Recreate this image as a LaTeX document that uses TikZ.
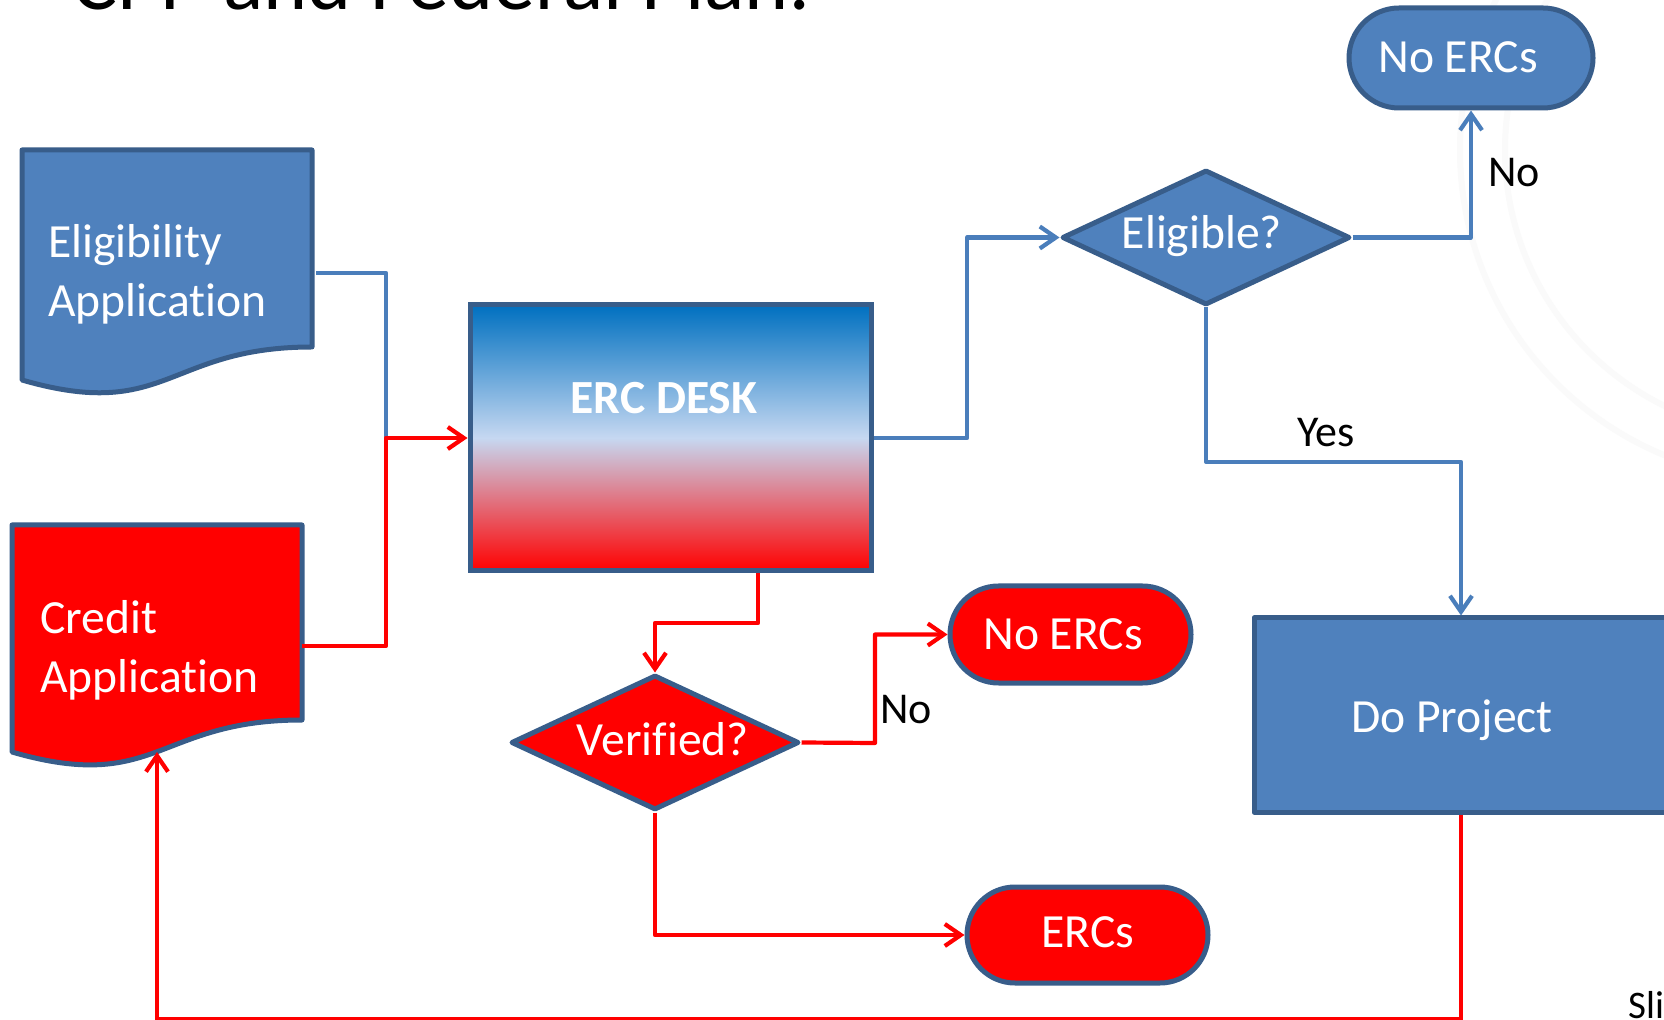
\documentclass[tikz,border=0pt]{standalone}
\usepackage{fontspec}
\setmainfont{Carlito}[Ligatures={NoCommon,NoContextual}]
\usetikzlibrary{arrows.meta,shapes.geometric,shapes.misc,calc}

\definecolor{bfill}{RGB}{79,129,189}
\definecolor{bedge}{RGB}{56,93,138}
\definecolor{bline}{RGB}{74,126,187}
\definecolor{rline}{RGB}{255,0,0}
\definecolor{gtop}{RGB}{0,112,192}
\definecolor{gmid}{RGB}{198,216,241}

\begin{document}
\begin{tikzpicture}[x=0.5pt,y=-0.5pt,
  shapeedge/.style={draw=bedge, line width=2.5pt, line join=round},
  bluebox/.style={shapeedge, fill=bfill},
  redbox/.style={shapeedge, fill=rline},
  wtext/.style={text=white, inner sep=0pt, font=\fontsize{23.8}{28}\selectfont},
  ktext/.style={text=black, inner sep=0pt, font=\fontsize{22}{26}\selectfont},
  bconn/.style={draw=bline, line width=2.1pt, line join=round},
  rconn/.style={draw=rline, line width=2.1pt, line join=round},
  tip/.style={-{Straight Barb[length=8pt,width=11pt]}},
  decision/.style={diamond, aspect=2.13, inner sep=0pt, minimum width=144pt, minimum height=67.5pt},
  terminal/.style={rounded rectangle, inner sep=0pt},
]
\useasboundingbox (0,0) rectangle (1664,1020);
\clip (0,0) rectangle (1664,1020);
\fill[white] (0,0) rectangle (1664,1020);

% faint watermark seal
\draw[black!2, line width=3pt] (1790,150) circle[radius=330];
\draw[black!2, line width=3pt] (1790,150) circle[radius=285];

% title (cut off at top)
\node[inner sep=0pt, anchor=base west, font=\fontsize{42}{50}\selectfont] (title) at (72,9.5) {CPP and Federal Plan:};

% document shapes
\draw[bluebox] (22,150) -- (312,150) -- (312,347) .. controls (167,347) and (167,422) .. (22,380) -- cycle;
\node[wtext, anchor=base west] (eligT1) at (48,258) {Eligibility};
\node[wtext, anchor=base west] (eligT2) at (48,317) {Application};

\draw[redbox] (12,525) -- (302,525) -- (302,720) .. controls (157,720) and (157,794) .. (12,752) -- cycle;
\node[wtext, anchor=base west] (credT1) at (40,633) {Credit};
\node[wtext, anchor=base west] (credT2) at (40,692) {Application};

% ERC desk
\node[draw=bedge, line width=2.5pt, top color=gtop, bottom color=rline, middle color=gmid,
      minimum width=200.5pt, minimum height=133pt, inner sep=0pt] (erc) at (670.5,438) {};
\node[wtext, font=\bfseries\fontsize{23.8}{28}\selectfont, anchor=base] (ercT) at (664,414) {ERC DESK};

% decisions
\node[decision, bluebox] (elg) at (1206,237.5) {};
\node[wtext, anchor=base] (elgT) at (1202,249) {Eligible?};
\node[decision, redbox] (ver) at (655,742.5) {};
\node[wtext, anchor=base] (verT) at (663,755) {Verified?};

% terminals
\node[terminal, bluebox, minimum width=122pt, minimum height=50pt] (nob) at (1471,58) {};
\node[wtext, anchor=base] (nobT) at (1458,73) {No ERCs};
\node[terminal, redbox, minimum width=120.5pt, minimum height=48.5pt] (nor) at (1070.5,634.5) {};
\node[wtext, anchor=base] (norT) at (1063,650) {No ERCs};
\node[terminal, redbox, minimum width=120.5pt, minimum height=48pt] (ercs) at (1087.5,935) {};
\node[wtext, anchor=base] (ercsT) at (1088,947) {ERCs};

% do project
\node[bluebox, minimum width=223pt, minimum height=97pt, inner sep=0pt] (dop) at (1477,715) {};
\node[wtext, anchor=base] (dopT) at (1452,732) {Do Project};

% helper coordinates
\coordinate (eligOut) at (316,273);
\coordinate (credOut) at (302,646);
\coordinate (merge) at (386,438);
\coordinate (j1) at (967,438);
\coordinate (yesY) at (1461,462);
\coordinate (j4) at (758,623);
\coordinate (j5) at (875,743);
\coordinate (j6) at (157,1019.5);
\coordinate (credIn) at (157,752);

% connectors
\draw[bconn] (eligOut) -| (merge);
\draw[rconn, tip] (credOut) -| (merge) -- (erc.west);
\draw[bconn, tip] (erc.east) -- (j1) |- (elg.west);
\draw[bconn, tip] (elg.east) -| (nob.south);
\draw[bconn, tip] (elg.south) |- (yesY) -- (yesY |- dop.north);
\draw[rconn, tip] (j4 |- erc.south) -- (j4) -| (ver.north);
\draw[rconn, tip] (ver.east) -- (j5) |- (nor.west);
\draw[rconn, tip] (ver.south) |- (ercs.west);
\draw[rconn, tip] (yesY |- dop.south) |- (j6) -- (credIn);

% labels
\node[ktext, anchor=base west] (lNo1) at (1488,187) {No};
\node[ktext, anchor=base west] (lYes) at (1297,447) {Yes};
\node[ktext, anchor=base west] (lNo2) at (880,723) {No};
\node[ktext, font=\fontsize{19.5}{23}\selectfont, anchor=base west] (sli) at (1628,1018) {Sli};
\end{tikzpicture}
\end{document}
